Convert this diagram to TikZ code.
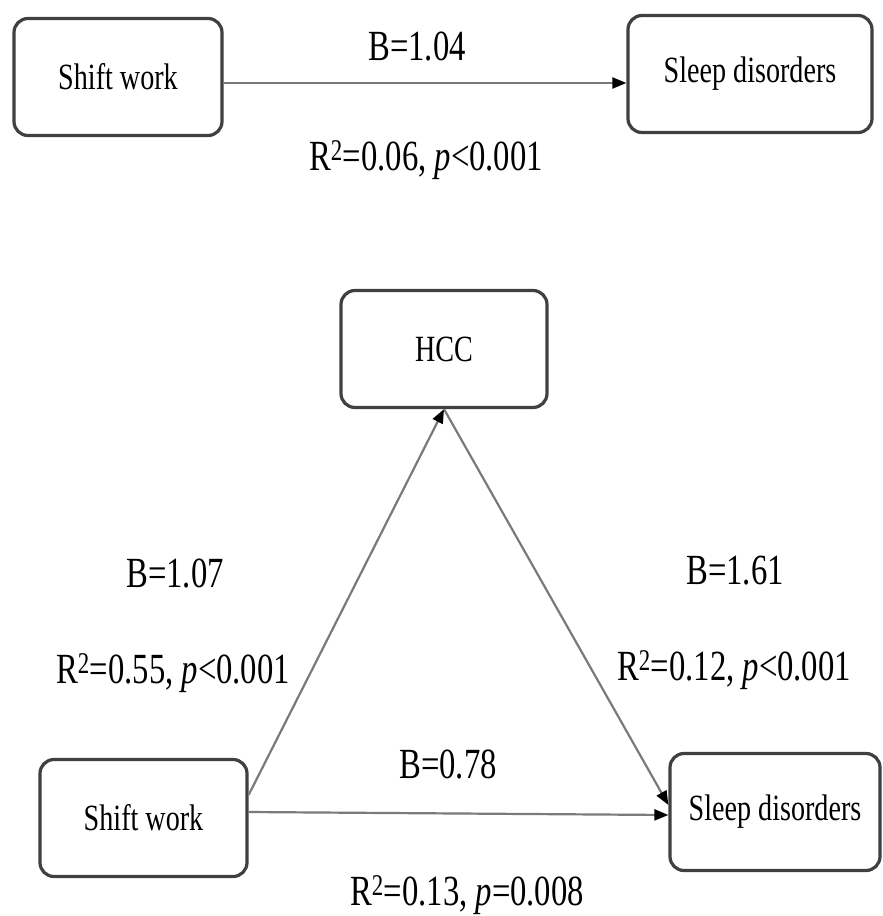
\documentclass[tikz,border=0pt]{standalone}
\usepackage{fontspec}
\setmainfont[FakeStretch=0.76]{Liberation Serif}
\usetikzlibrary{arrows.meta}
\definecolor{boxgray}{HTML}{404040}
\definecolor{linegray}{HTML}{7A7A7A}
\begin{document}
\begin{tikzpicture}[x=1pt,y=-1pt,
  box/.style={draw=boxgray, line width=3.2pt, rounded corners=14pt,
    minimum height=117pt, inner sep=0pt, align=center,
    font=\fontsize{37}{40}\selectfont},
  lbl/.style={font=\fontsize{43}{48}\selectfont, anchor=base, inner sep=0pt},
  conn/.style={draw=linegray, line width=2.2pt,
    -{Triangle[length=14pt,width=11pt,color=black]}}
]
\useasboundingbox (0,0) rectangle (883,916);
\fill[white] (0,0) rectangle (883,916);

% top model
\node[box, minimum width=208pt] (sw1) at (118,77) {Shift work};
\node[box, minimum width=244pt] (sd1) at (750,74) {Sleep disorders};
\draw[conn] ([yshift=-6pt]sw1.east) -- ([yshift=-9pt]sd1.west);
\node[lbl] (b1) at (417,60) {B=1.04};
\node[lbl] (r1) at (426,170) {R\textsuperscript{2}=0.06, \textit{p}<0.001};

% mediation model
\node[box, minimum width=206pt] (hcc) at (444,349) {HCC};
\node[box, minimum width=207pt] (sw2) at (143.5,818) {Shift work};
\node[box, minimum width=210pt] (sd2) at (775,812) {Sleep disorders};

\draw[conn] ([yshift=23pt]sw2.east) -- (hcc.south);
\draw[conn] (hcc.south) -- ([yshift=7pt]sd2.west);
\draw[conn] ([yshift=6pt]sw2.east) -- ([yshift=-3pt]sd2.west);

\node[lbl] (b2) at (175,587) {B=1.07};
\node[lbl] (r2) at (173,683) {R\textsuperscript{2}=0.55, \textit{p}<0.001};
\node[lbl] (b3) at (735,584) {B=1.61};
\node[lbl] (r3) at (734,680) {R\textsuperscript{2}=0.12, \textit{p}<0.001};
\node[lbl] (b4) at (448,778) {B=0.78};
\node[lbl] (r4) at (467,905) {R\textsuperscript{2}=0.13, \textit{p}=0.008};
\end{tikzpicture}
\end{document}
